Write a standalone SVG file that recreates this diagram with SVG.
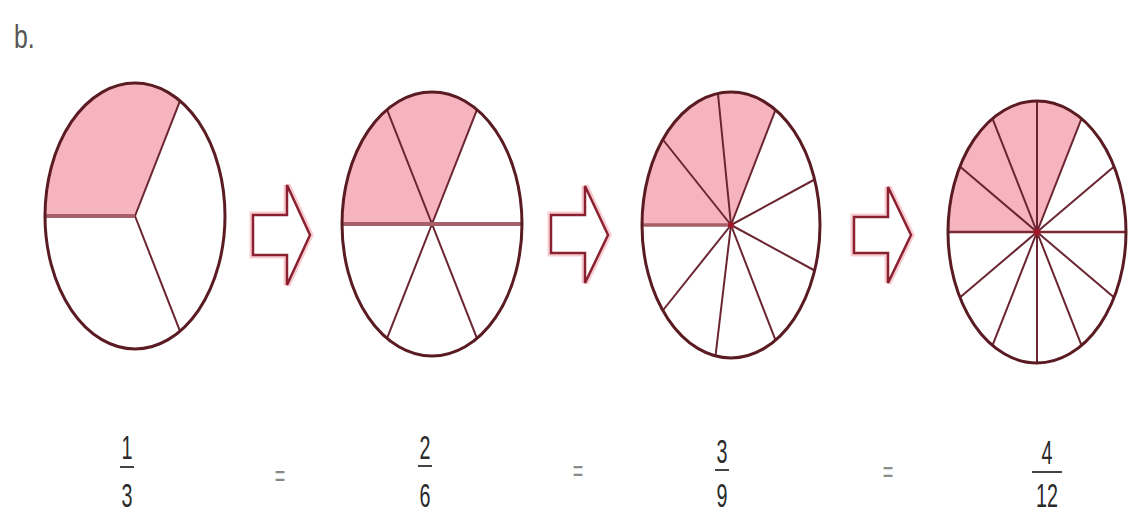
<svg xmlns="http://www.w3.org/2000/svg" width="1130" height="515" viewBox="0 0 1130 515">
<defs>
<style>
.rim{fill:none;stroke:#5a1c22;stroke-width:3}
.shade{fill:#f6b5be;stroke:none}
.spoke{stroke:#6b2530;stroke-width:2;fill:none}
.hz{stroke:#a86068;stroke-width:4;fill:none}
.arrow-halo{fill:none;stroke:#f8cdd2;stroke-width:7;stroke-linejoin:miter}
.arrow{fill:#ffffff;stroke:#8a2030;stroke-width:2.5;stroke-linejoin:miter}
.num{font-family:"Liberation Sans",Arial,sans-serif;font-size:34px;fill:#2a2a2a;text-anchor:middle}
.eq{font-family:"Liberation Sans",Arial,sans-serif;font-size:30px;fill:#8a8a8a;text-anchor:middle}
.bar{stroke:#444444;stroke-width:2}
.hub{fill:#a01828}
</style>
</defs>
<rect width="1130" height="515" fill="#ffffff"/>
<text x="0" y="0" transform="translate(14,48) scale(0.75,1)" font-family="Liberation Sans, Arial, sans-serif" font-size="33" fill="#555555">b.</text>

<g id="circle-1-3">
<path class="shade" d="M135,216 L180,100.8 A90,133 0 0,0 45,216 Z"/>
<line class="spoke" x1="135" y1="216" x2="180" y2="100.8"/>
<line class="spoke" x1="135" y1="216" x2="180" y2="331.2"/>
<line class="hz" x1="45" y1="216" x2="135" y2="216"/>
<ellipse class="rim" cx="135" cy="216" rx="90" ry="133"/>
</g>

<g id="circle-2-6">
<path class="shade" d="M432,224 L477,109.7 A90,132 0 0,0 342,224 Z"/>
<line class="spoke" x1="432" y1="224" x2="477" y2="109.7"/>
<line class="spoke" x1="432" y1="224" x2="387" y2="109.7"/>
<line class="spoke" x1="432" y1="224" x2="387" y2="338.3"/>
<line class="spoke" x1="432" y1="224" x2="477" y2="338.3"/>
<line class="hz" x1="342" y1="224" x2="522" y2="224"/>
<ellipse class="rim" cx="432" cy="224" rx="90" ry="132"/>
</g>

<g id="circle-3-9">
<path class="shade" d="M731,225 L775.5,109.8 A89,133 0 0,0 642,225 Z"/>
<line class="spoke" x1="731" y1="225" x2="662.8" y2="139.5"/>
<line class="spoke" x1="731" y1="225" x2="718" y2="94"/>
<line class="spoke" x1="731" y1="225" x2="775.5" y2="109.8"/>
<line class="spoke" x1="731" y1="225" x2="814.6" y2="179.5"/>
<line class="spoke" x1="731" y1="225" x2="814.6" y2="270.5"/>
<line class="spoke" x1="731" y1="225" x2="775.5" y2="340.2"/>
<line class="spoke" x1="731" y1="225" x2="715.5" y2="356"/>
<line class="spoke" x1="731" y1="225" x2="662.8" y2="310.5"/>
<line class="hz" x1="642" y1="225" x2="731" y2="225" style="stroke-width:3.5"/>
<ellipse class="rim" cx="731" cy="225" rx="89" ry="133"/>
<circle class="hub" cx="731" cy="225" r="3"/>
</g>

<g id="circle-4-12">
<path class="shade" d="M1037,232 L1081.5,118.6 A89,131 0 0,0 948,232 Z"/>
<line class="spoke" x1="1037" y1="232" x2="1114.1" y2="166.5"/>
<line class="spoke" x1="1037" y1="232" x2="1081.5" y2="118.6"/>
<line class="spoke" x1="1037" y1="232" x2="1037" y2="101"/>
<line class="spoke" x1="1037" y1="232" x2="992.5" y2="118.6"/>
<line class="spoke" x1="1037" y1="232" x2="959.9" y2="166.5"/>
<line class="spoke" x1="1037" y1="232" x2="959.9" y2="297.5"/>
<line class="spoke" x1="1037" y1="232" x2="992.5" y2="345.4"/>
<line class="spoke" x1="1037" y1="232" x2="1037" y2="363"/>
<line class="spoke" x1="1037" y1="232" x2="1081.5" y2="345.4"/>
<line class="spoke" x1="1037" y1="232" x2="1114.1" y2="297.5"/>
<line class="spoke" x1="948" y1="232" x2="1126" y2="232" style="stroke:#7a2a30;stroke-width:2.5"/>
<ellipse class="rim" cx="1037" cy="232" rx="89" ry="131"/>
<circle class="hub" cx="1037" cy="232" r="3.5"/>
</g>

<g id="connectors">
<polygon class="arrow-halo" points="253,215 287,215 287,185 310,235 287,285 287,255 253,255"/>
<polygon class="arrow" points="253,215 287,215 287,185 310,235 287,285 287,255 253,255"/>
<polygon class="arrow-halo" points="551,215 585,215 585,186 608,235 585,283 585,253 551,253"/>
<polygon class="arrow" points="551,215 585,215 585,186 608,235 585,283 585,253 551,253"/>
<polygon class="arrow-halo" points="854,217 888,217 888,187 911,235 888,283 888,253 854,253"/>
<polygon class="arrow" points="854,217 888,217 888,187 911,235 888,283 888,253 854,253"/>
</g>

<g id="fraction-1-3">
<text class="num" transform="translate(127,459) scale(0.58,1)">1</text>
<line class="bar" x1="120" y1="467" x2="134" y2="467"/>
<text class="num" transform="translate(127,507) scale(0.58,1)">3</text>
</g>
<g id="eq-1"><text class="eq" transform="translate(280,486) scale(0.6,1)">=</text></g>
<g id="fraction-2-6">
<text class="num" transform="translate(425,459) scale(0.58,1)">2</text>
<line class="bar" x1="418" y1="466" x2="432" y2="466"/>
<text class="num" transform="translate(425,507) scale(0.58,1)">6</text>
</g>
<g id="eq-2"><text class="eq" transform="translate(578,481) scale(0.6,1)">=</text></g>
<g id="fraction-3-9">
<text class="num" transform="translate(722,463) scale(0.58,1)">3</text>
<line class="bar" x1="715" y1="470" x2="729" y2="470"/>
<text class="num" transform="translate(722,507) scale(0.58,1)">9</text>
</g>
<g id="eq-3"><text class="eq" transform="translate(888,482) scale(0.6,1)">=</text></g>
<g id="fraction-4-12">
<text class="num" transform="translate(1047,464) scale(0.58,1)">4</text>
<line class="bar" x1="1032" y1="472" x2="1062" y2="472"/>
<text class="num" transform="translate(1047,507) scale(0.58,1)">12</text>
</g>
</svg>
